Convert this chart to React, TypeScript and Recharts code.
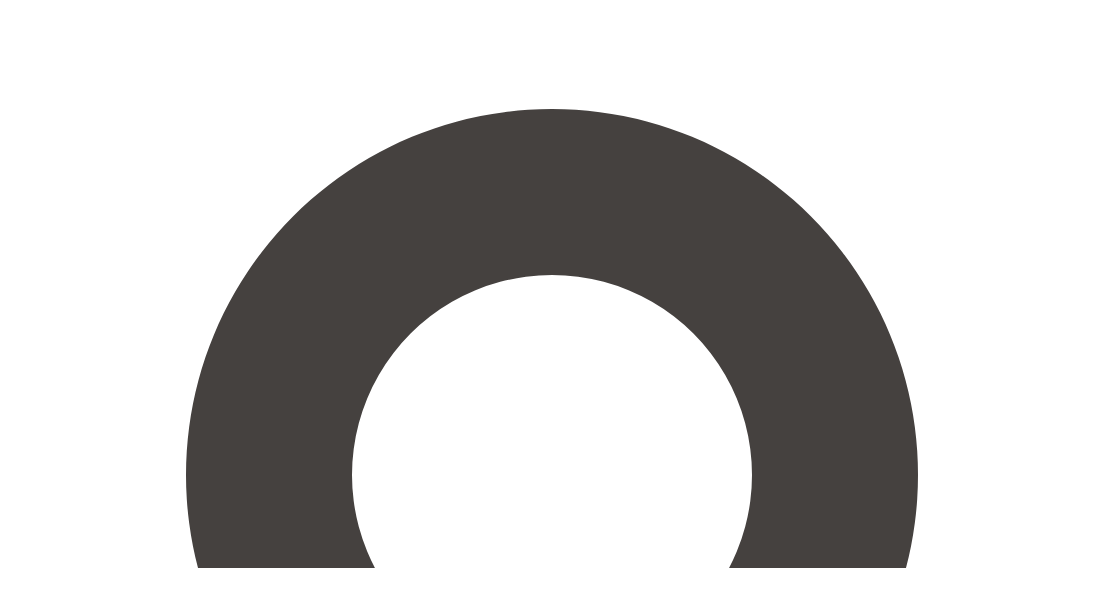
import { PieChart, Pie, Cell } from 'recharts'

const categories = ['total']
const values = [100]
const colors = ['#45413f']

const data = categories.map((name, i) => ({ name, value: values[i] }))

export default function App() {
  return (
    <PieChart width={1102} height={560} margin={{ top: 0, right: 0, bottom: 0, left: 0 }}>
      <Pie
        data={data}
        dataKey="value"
        nameKey="name"
        cx={544}
        cy={467}
        innerRadius={200}
        outerRadius={366}
        startAngle={90}
        endAngle={-270}
        stroke="none"
        isAnimationActive={false}
      >
        {data.map((d, i) => (
          <Cell key={d.name} fill={colors[i]} />
        ))}
      </Pie>
    </PieChart>
  )
}
